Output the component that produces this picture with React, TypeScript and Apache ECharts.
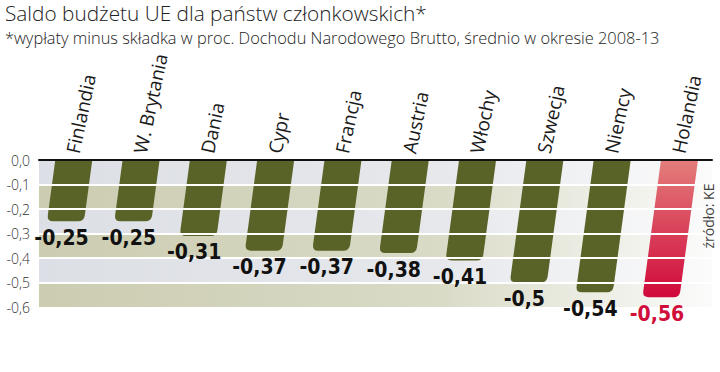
import React, { useEffect, useRef } from 'react';
import * as echarts from 'echarts';

const categories = ['Finlandia', 'W. Brytania', 'Dania', 'Cypr', 'Francja', 'Austria', 'Włochy', 'Szwecja', 'Niemcy', 'Holandia'];
const values = [-0.25, -0.25, -0.31, -0.37, -0.37, -0.38, -0.41, -0.5, -0.54, -0.56];
const highlighted = 'Holandia';
const gridLines = [-0.1, -0.2, -0.3, -0.4, -0.5];
const titleText = 'Saldo budżetu UE dla państw członkowskich*';
const subtitleText = '*wypłaty minus składka w proc. Dochodu Narodowego Brutto, średnio w okresie 2008-13';
const sourceText = 'źródło: KE';

const fmt = (v: number) => v.toString().replace('.', ',');

export default function App() {
  const ref = useRef<HTMLDivElement>(null);
  useEffect(() => {
    if (!ref.current) return;
    const chart = echarts.init(ref.current, undefined, { renderer: 'svg' });
    const hGrad = (c: string) =>
      new echarts.graphic.LinearGradient(0, 0, 1, 0, [
        { offset: 0, color: c },
        { offset: 0.6, color: echarts.color.lift(c, 0.3) as string },
        { offset: 1, color: '#fbfbfb' },
      ]);
    const olive = '#5a6327';
    const redGrad = new echarts.graphic.LinearGradient(0, 0, 0, 1, [
      { offset: 0, color: '#e37d7b' },
      { offset: 1, color: '#d0093a' },
    ]);
    const skew = 0.135;
    const barGeom = (api: any) => {
      const i = api.value(0);
      const v = api.value(1);
      const top = api.coord([i, 0]);
      const bot = api.coord([i, v]);
      const band = api.size([1, 0])[0];
      const w = band * 0.55;
      const y0 = top[1] + 1;
      const y1 = bot[1];
      const dx = (y1 - y0) * skew;
      const cx = top[0] + 1;
      return { i, v, y0, y1, xl0: cx - w / 2, xr0: cx + w / 2, xl1: cx - w / 2 - dx, xr1: cx + w / 2 - dx };
    };
    chart.setOption({
      animation: false,
      backgroundColor: '#ffffff',
      title: [
        {
          text: titleText,
          left: 5,
          top: 0,
          padding: 0,
          textStyle: { fontFamily: 'Open Sans', fontWeight: 300, fontSize: 20.8, lineHeight: 26, color: '#222' },
        },
        {
          text: subtitleText,
          left: 5,
          top: 27,
          padding: 0,
          textStyle: { fontFamily: 'Open Sans', fontWeight: 300, fontSize: 16.4, lineHeight: 20, color: '#222' },
        },
      ],
      grid: { left: 39, right: 8, top: 160, bottom: 65 },
      xAxis: {
        type: 'category',
        data: categories,
        position: 'top',
        axisLine: { show: true, lineStyle: { color: '#111', width: 2 } },
        axisTick: { show: false },
        splitLine: { show: false },
        axisLabel: {
          interval: 0,
          rotate: 78,
          margin: 7,
          fontFamily: 'Open Sans',
          fontSize: 19,
          color: '#1a1a1a',
        },
      },
      yAxis: {
        type: 'value',
        min: -0.6,
        max: 0,
        interval: 0.1,
        axisLine: { show: false },
        axisTick: { show: false },
        splitLine: { show: false },
        splitArea: {
          show: true,
          areaStyle: { color: [hGrad('#cbccb0'), hGrad('#dcdfe5')] },
        },
        axisLabel: {
          formatter: (v: number) => v.toFixed(1).replace('.', ','),
          fontFamily: 'Open Sans',
          fontWeight: 300,
          fontSize: 14,
          color: '#333',
          margin: 9,
        },
      },
      series: [
        {
          type: 'custom',
          z: 2,
          data: values.map((v, i) => [i, v]),
          encode: { x: 0, y: 1 },
          renderItem: (params: any, api: any) => {
            const g = barGeom(api);
            const r = 6;
            const d =
              `M${g.xl0},${g.y0} L${g.xr0},${g.y0} L${g.xr1 + skew * r},${g.y1 - r} ` +
              `Q${g.xr1},${g.y1} ${g.xr1 - r},${g.y1} L${g.xl1 + r},${g.y1} ` +
              `Q${g.xl1},${g.y1} ${g.xl1 + skew * r},${g.y1 - r} Z`;
            const isHi = categories[g.i] === highlighted;
            return { type: 'path', shape: { pathData: d }, style: { fill: isHi ? redGrad : olive } };
          },
        },
        {
          type: 'line',
          data: [],
          z: 5,
          markLine: {
            silent: true,
            symbol: 'none',
            label: { show: false },
            lineStyle: { color: '#ffffff', width: 2, type: 'solid' },
            data: gridLines.map((gl) => ({ yAxis: gl })),
          },
        },
        {
          type: 'custom',
          z: 10,
          data: values.map((v, i) => [i, v]),
          encode: { x: 0, y: 1 },
          renderItem: (params: any, api: any) => {
            const g = barGeom(api);
            const isHi = categories[g.i] === highlighted;
            return {
              type: 'text',
              x: (g.xl1 + g.xr1) / 2 - 4,
              y: g.y1 + 6,
              style: {
                text: fmt(g.v),
                fill: isHi ? '#d0103a' : '#111',
                font: 'bold 21px "DejaVu Sans Condensed", "DejaVu Sans"',
                align: 'center',
                verticalAlign: 'top',
              },
            };
          },
        },
      ],
      graphic: [
        {
          type: 'text',
          z: 100,
          zlevel: 0,
          x: 708,
          y: 216,
          rotation: Math.PI / 2,
          style: {
            text: sourceText,
            font: '14px "Open Sans"',
            fill: '#444',
            align: 'center',
            verticalAlign: 'middle',
          },
        },
      ],
    });
    return () => chart.dispose();
  }, []);
  return <div ref={ref} style={{ position: 'absolute', left: 0, top: 0, width: 720, height: 372 }} />;
}
